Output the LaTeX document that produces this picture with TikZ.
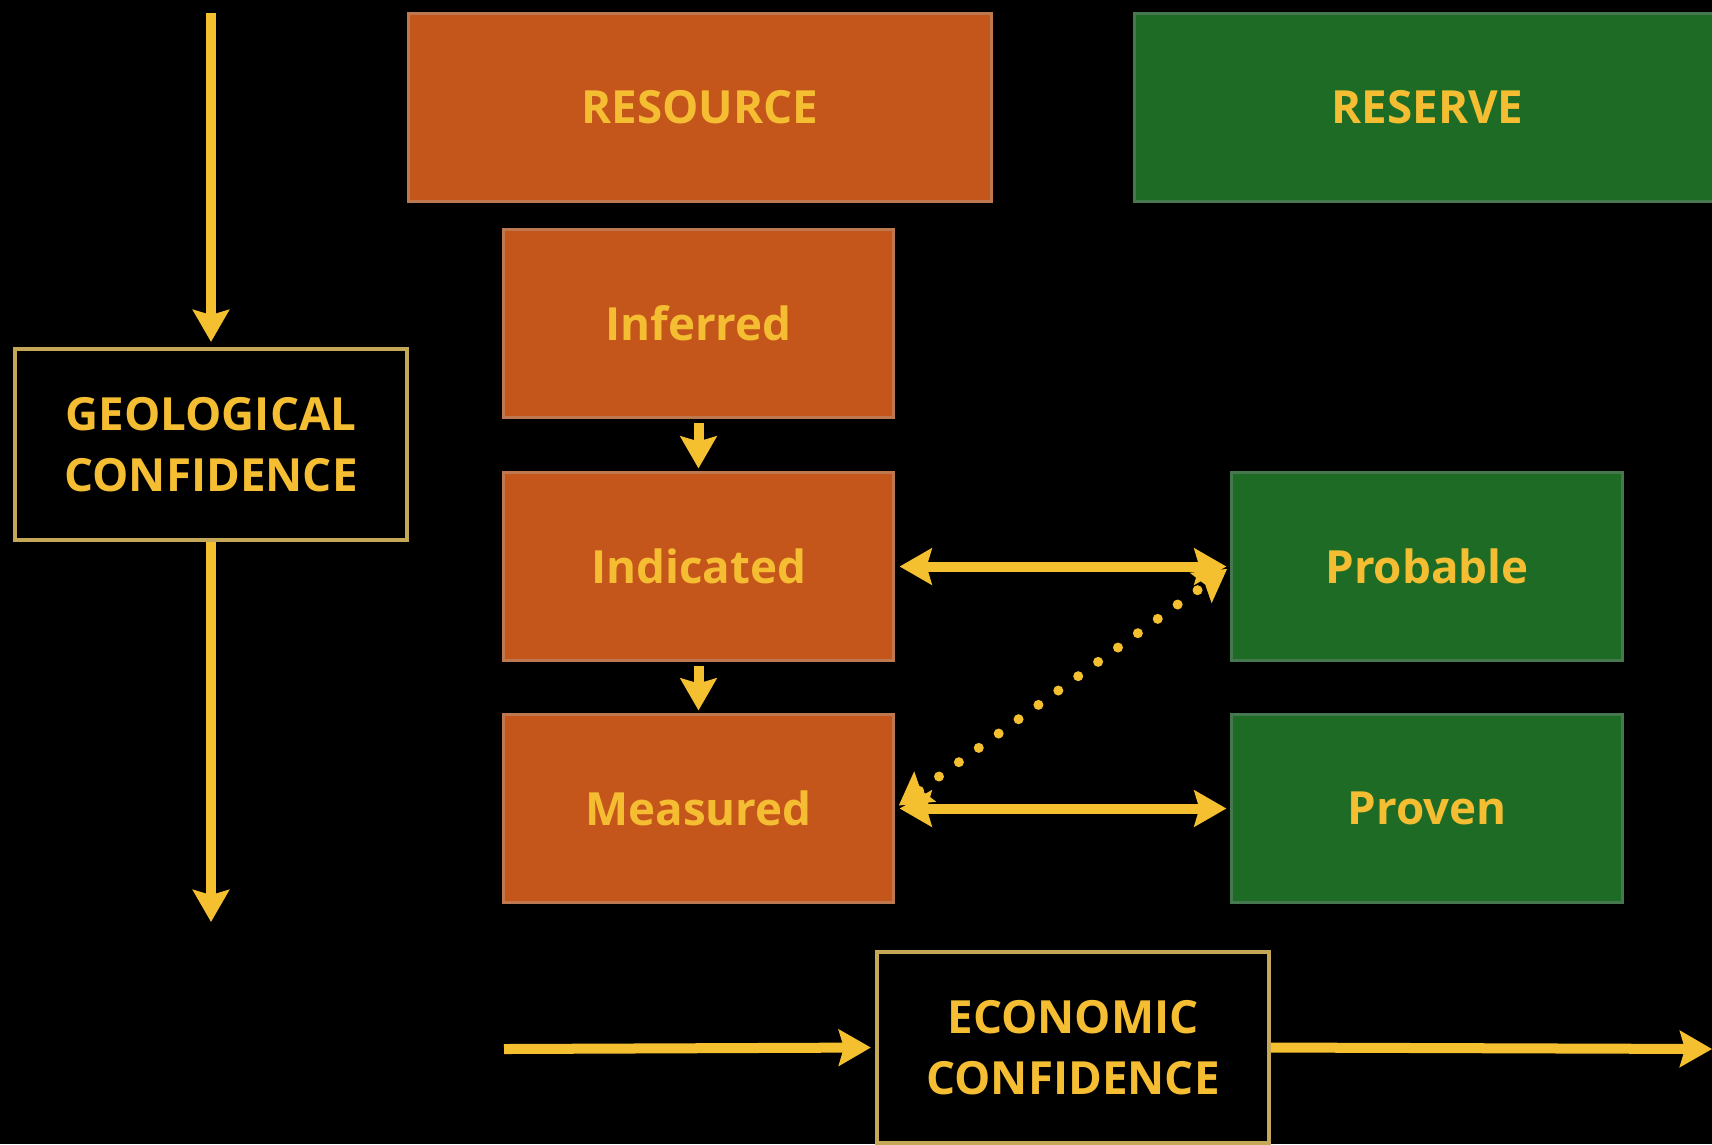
\documentclass[tikz,border=0pt]{standalone}
\usepackage{fontspec}
\setmainfont{Open Sans}
\usetikzlibrary{arrows.meta}
\definecolor{orefill}{RGB}{197,86,27}
\definecolor{oreedge}{RGB}{190,120,80}
\definecolor{resfill}{RGB}{29,107,37}
\definecolor{resedge}{RGB}{70,120,80}
\definecolor{arrgold}{RGB}{245,192,48}
\definecolor{txtgold}{RGB}{245,190,50}
\definecolor{boxedge}{RGB}{196,168,88}

\tikzset{
  boxtext/.style={text=txtgold, font=\bfseries\fontsize{13}{17.3}\selectfont, align=center, inner sep=0pt},
  orebox/.style={boxtext, fill=orefill, draw=oreedge, line width=0.03cm},
  resbox/.style={boxtext, fill=resfill, draw=resedge, line width=0.03cm},
  confbox/.style={boxtext, fill=black, draw=boxedge, line width=0.04cm, minimum width=3.92cm, minimum height=1.91cm},
  goldtip/.tip={Stealth[length=0.32cm,width=0.36cm,inset=0.05cm]},
  onearr/.style={draw=arrgold, line width=0.1cm, -goldtip},
  twoarr/.style={draw=arrgold, line width=0.1cm, goldtip-goldtip},
  dotarr/.style={draw=arrgold, line width=0.1cm, line cap=round, dash pattern=on 0pt off 0.245cm, goldtip-goldtip}
}

\begin{document}
\begin{tikzpicture}[x=0.01cm,y=-0.01cm]
  %%%%% START %%%%%
  \fill[black] (0,0) rectangle (1712,1144);
  \useasboundingbox (0,0) rectangle (1712,1144);
  \clip (0,0) rectangle (1712,1144);

  % headers
  \node[orebox, minimum width=5.82cm, minimum height=1.87cm] (resource) at (700,107.5) {RESOURCE};
  \node[resbox, minimum width=5.85cm, minimum height=1.87cm] (reserve) at (1427.5,107.5) {RESERVE};

  % resource classes
  \node[orebox, minimum width=3.89cm, minimum height=1.87cm] (inferred) at (698.5,323.5) {Inferred};
  \node[orebox, minimum width=3.89cm, minimum height=1.87cm] (indicated) at (698.5,566.5) {Indicated};
  \node[orebox, minimum width=3.89cm, minimum height=1.87cm] (measured) at (698.5,808.5) {Measured};

  % reserve classes
  \node[resbox, minimum width=3.90cm, minimum height=1.87cm] (probable) at (1427,566.5) {Probable};
  \node[resbox, minimum width=3.90cm, minimum height=1.87cm] (proven) at (1427,808.5) {Proven};

  % confidence axes
  \node[confbox] (geo) at (211,444.5) {GEOLOGICAL\\CONFIDENCE};
  \node[confbox] (econ) at (1073,1047.5) {ECONOMIC\\CONFIDENCE};

  \coordinate (geotop) at (211,13);
  \coordinate (geobot) at (211,922);
  \coordinate (econin) at (504,1049);
  \coordinate (econout) at (1712,1049);

  \draw[onearr, shorten >=0.05cm] (geotop) -- (geo.north);
  \draw[onearr] (geo.south) -- (geobot);
  \draw[onearr, shorten >=0.04cm] (econin) -- (econ.west);
  \draw[onearr] (econ.east) -- (econout);

  \draw[onearr, shorten <=0.04cm, shorten >=0.03cm] (inferred.south) -- (indicated.north);
  \draw[onearr, shorten <=0.04cm, shorten >=0.03cm] (indicated.south) -- (measured.north);

  \draw[twoarr, shorten <=0.05cm, shorten >=0.04cm] (indicated.east) -- (probable.west);
  \draw[twoarr, shorten <=0.05cm, shorten >=0.04cm] (measured.east) -- (proven.west);
  \draw[dotarr, shorten <=0.05cm, shorten >=0.04cm] (measured.east) -- (probable.west);
  %%%%% END %%%%%
\end{tikzpicture}
\end{document}
